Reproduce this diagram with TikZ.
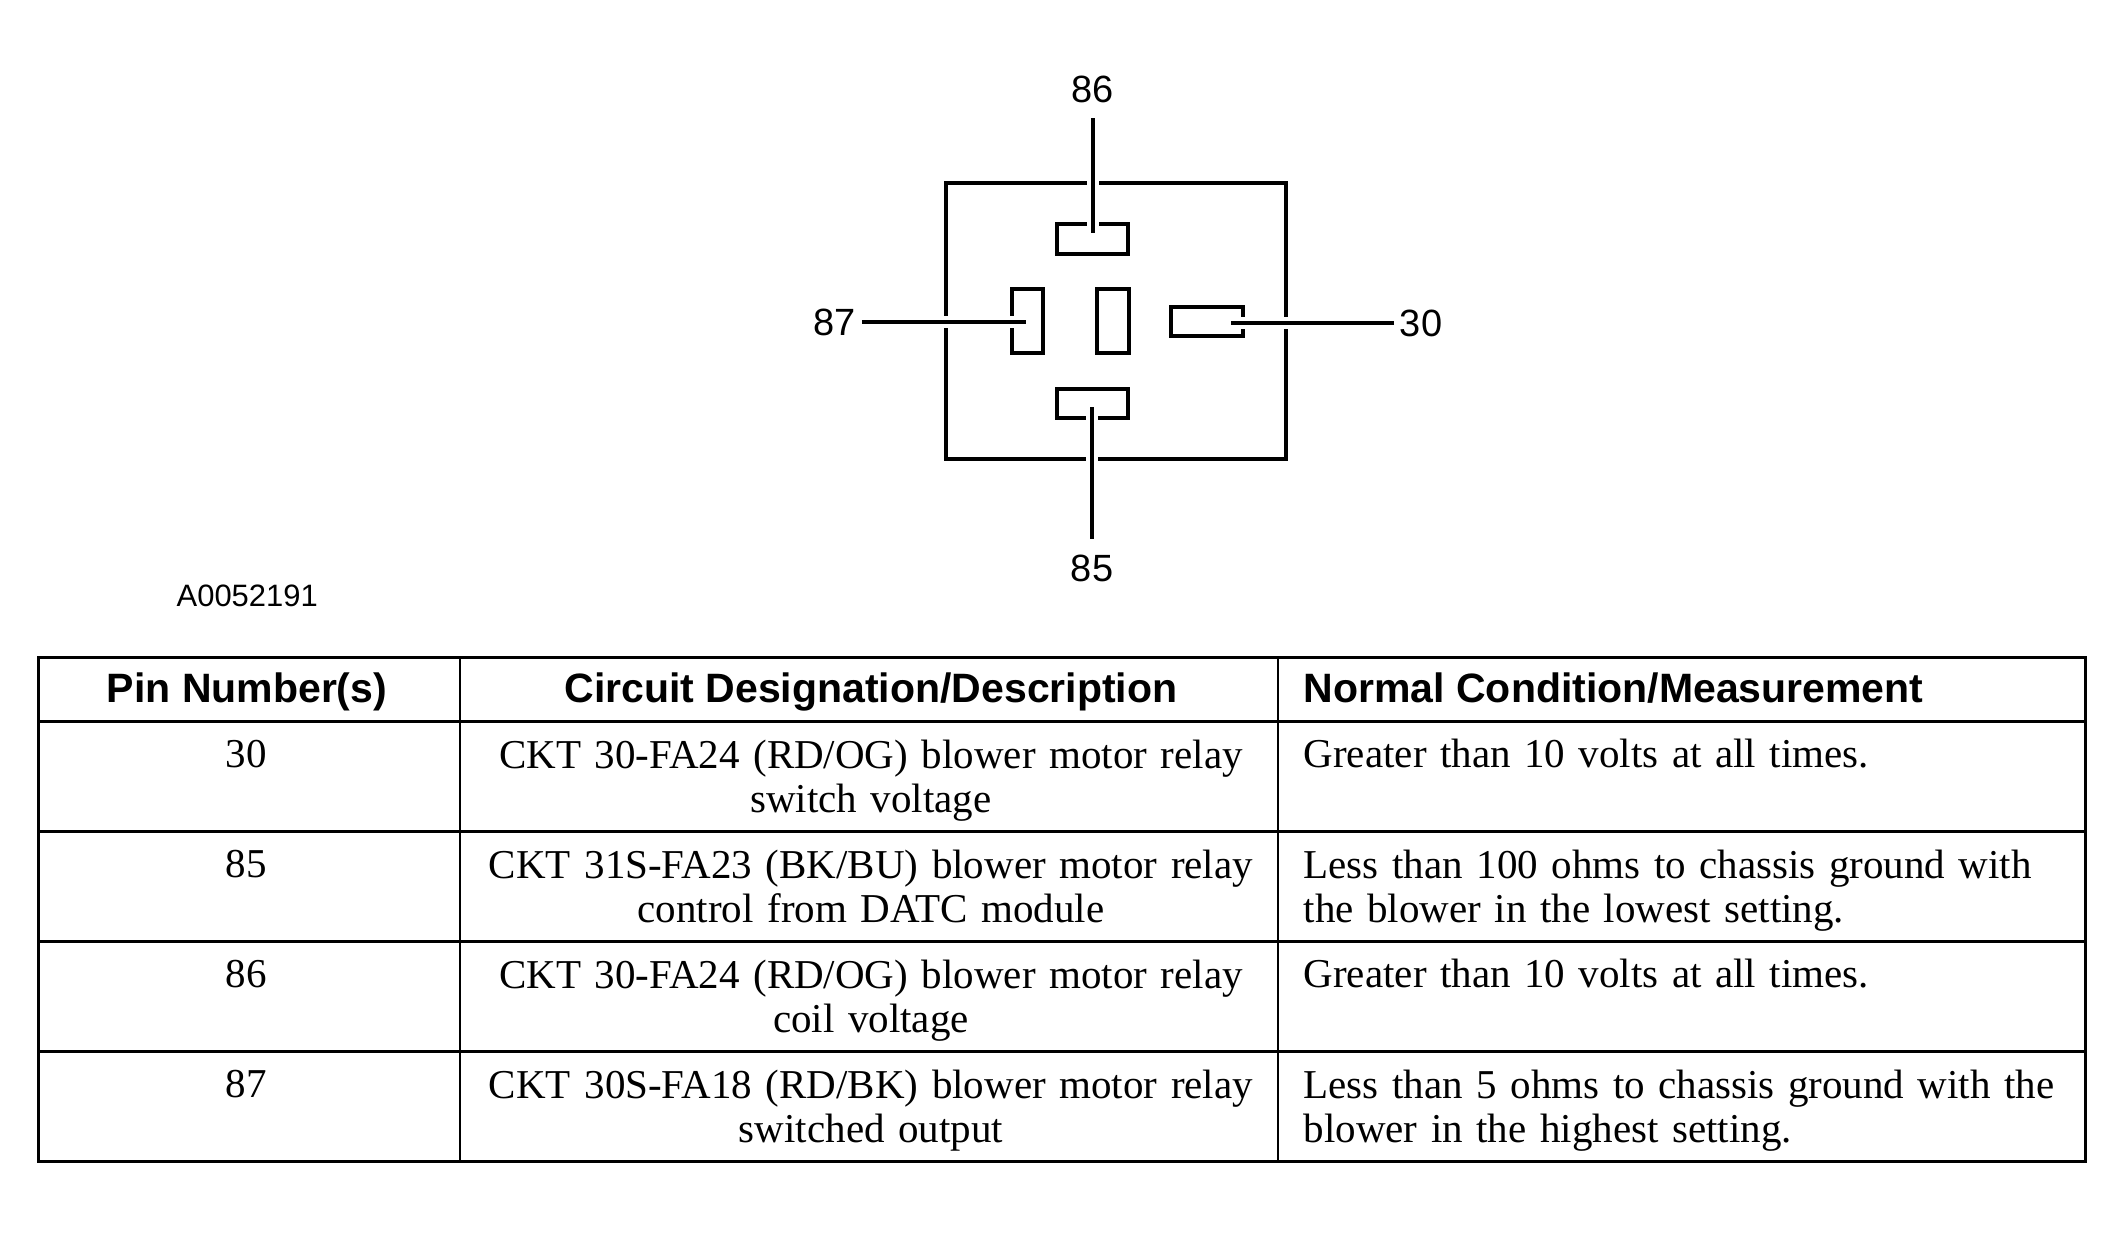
\documentclass[tikz,border=0pt]{standalone}
\usepackage{fontspec}
\setmainfont{Liberation Serif}
\setsansfont{Liberation Sans}
\usetikzlibrary{positioning}
\newcommand{\tabLeft}{38}
\newcommand{\tabRight}{2085}
\newcommand{\colSplitA}{460}
\newcommand{\colSplitB}{1278}
\newcommand{\tabTop}{658}
\newcommand{\headBottom}{722}
\newcommand{\tabBottom}{1162}
\newcommand{\cellFont}{\fontsize{11.67pt}{12.8pt}\selectfont\spaceskip=0.33em\relax}
\newcommand{\headFont}{\sffamily\bfseries\fontsize{11.67pt}{13pt}\selectfont}
\newcommand{\pinFont}{\sffamily\fontsize{10.8pt}{12pt}\selectfont}
\newcommand{\codeFont}{\sffamily\fontsize{8.8pt}{10pt}\selectfont}

\tikzset{
  blade/.style={draw, line width=0.4mm, rectangle, inner sep=0pt, outer sep=0pt},
  pinlabel/.style={font=\pinFont, inner xsep=0.5mm, inner ysep=1.5mm},
  wire/.style={line width=0.4mm, preaction={draw=white, line width=1.2mm}},
  cell/.style={font=\cellFont, anchor=base, align=center, inner sep=0pt},
  measure/.style={font=\cellFont, anchor=base west, align=left, inner sep=0pt},
  twoline/.style={yshift=-4.5mm},
  headcell/.style={font=\headFont, anchor=base, inner sep=0pt},
  rule/.style={line width=0.3mm}
}

\begin{document}
\begin{tikzpicture}[x=0.1mm, y=-0.1mm]
\useasboundingbox (0,0) rectangle (2124,1238);
% relay socket
\node[draw, line width=0.4mm, minimum width=34mm, minimum height=27.6mm, inner sep=0pt] (relay) at (1116,321) {};
\node[blade, minimum width=7.1mm, minimum height=3mm] (blade86) at (1092.5,239) {};
\node[blade, minimum width=3.1mm, minimum height=6.4mm] (blade87) at (1027.5,321) {};
\node[blade, minimum width=3.2mm, minimum height=6.4mm] (bladeMid) at (1113,321) {};
\node[blade, minimum width=7.2mm, minimum height=2.9mm] (blade30) at (1207,321.5) {};
\node[blade, minimum width=7.1mm, minimum height=2.9mm] (blade85) at (1092.5,403.5) {};

\node[pinlabel] (lbl86) at (1093,89) {86};
\node[pinlabel] (lbl87) at (835,322) {87};
\node[pinlabel] (lbl30) at (1421,323) {30};
\node[pinlabel] (lbl85) at (1092,568) {85};
\coordinate (w86) at (1093,233);
\coordinate (w87) at (1026,322);
\coordinate (w30) at (1231,323);
\coordinate (w85) at (1092,407);
\draw[wire] (lbl86) -- (w86);
\draw[wire] (lbl87) -- (w87);
\draw[wire] (lbl30) -- (w30);
\draw[wire] (lbl85) -- (w85);

\node[font=\codeFont, anchor=base west, inner sep=0pt] (figid) at (176,607) {A0052191};

% table
\draw[rule] (\tabLeft,\tabTop) rectangle (\tabRight,\tabBottom);
\draw[rule] (\tabLeft,\headBottom) -- (\tabRight,\headBottom);
\draw[rule] (\tabLeft,832) -- (\tabRight,832);
\draw[rule] (\tabLeft,942) -- (\tabRight,942);
\draw[rule] (\tabLeft,1052) -- (\tabRight,1052);
\draw[line width=0.25mm] (\colSplitA,\tabTop) -- (\colSplitA,\tabBottom);
\draw[line width=0.25mm] (\colSplitB,\tabTop) -- (\colSplitB,\tabBottom);

\node[headcell] (headPin) at (247,703) {Pin Number(s)};
\node[headcell] (headDesc) at (871,703) {Circuit Designation/Description};
\node[headcell, anchor=base west] (headMeas) at (1303,703) {Normal Condition/Measurement};

\node[cell] (pin30) at (246,768) {30};
\node[cell, twoline] (desc30) at (871,768) {CKT 30-FA24 (RD/OG) blower motor relay\\switch voltage};
\node[measure] (meas30) at (1303,768) {Greater than 10 volts at all times.};

\node[cell] (pin85) at (246,878) {85};
\node[cell, twoline] (desc85) at (871,878) {CKT 31S-FA23 (BK/BU) blower motor relay\\control from DATC module};
\node[measure, twoline] (meas85) at (1303,878) {Less than 100 ohms to chassis ground with\\the blower in the lowest setting.};

\node[cell] (pin86) at (246,988) {86};
\node[cell, twoline] (desc86) at (871,988) {CKT 30-FA24 (RD/OG) blower motor relay\\coil voltage};
\node[measure] (meas86) at (1303,988) {Greater than 10 volts at all times.};

\node[cell] (pin87) at (246,1098) {87};
\node[cell, twoline] (desc87) at (871,1098) {CKT 30S-FA18 (RD/BK) blower motor relay\\switched output};
\node[measure, twoline] (meas87) at (1303,1098) {Less than 5 ohms to chassis ground with the\\blower in the highest setting.};
\end{tikzpicture}
\end{document}
